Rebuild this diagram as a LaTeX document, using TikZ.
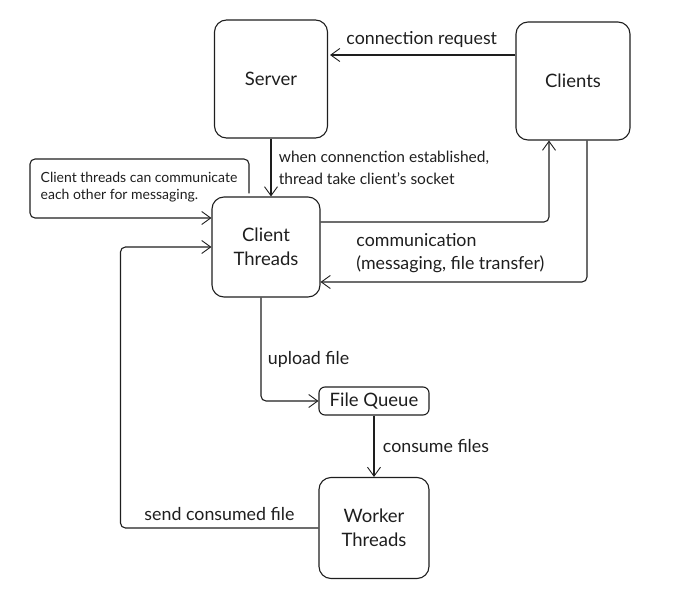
\documentclass[tikz,border=0pt]{standalone}
\usepackage{fontspec}
\setmainfont{Lato}
\usetikzlibrary{arrows.meta}
\definecolor{ink}{HTML}{1E1E1E}
\tikzstyle{block} = [rectangle, draw=ink, line width=1.1pt, rounded corners=12pt, align=center, text=ink, font=\fontsize{18.5}{24}\selectfont]
\tikzstyle{flow} = [draw=ink, line width=1.1pt, rounded corners=5pt, -{Straight Barb[length=9pt,width=13pt,line width=0.9pt]}]
\tikzstyle{edgetext} = [text=ink, align=left, font=\fontsize{17.8}{23}\selectfont]
\tikzstyle{smalltext} = [font=\fontsize{15.5}{22}\selectfont]
\tikzstyle{notetext} = [font=\fontsize{14}{17}\selectfont]

\begin{document}
\begin{tikzpicture}[x=1pt, y=1pt]
\useasboundingbox (0,0) rectangle (681,-605);
\node[block, minimum width=113pt, minimum height=118pt] (server) at (271,-79) {Server};
\node[block, minimum width=114pt, minimum height=118pt, right of=server, node distance=302pt, yshift=-2pt] (clients) {Clients};
\node[block, minimum width=108pt, minimum height=100pt, below of=server, node distance=168pt, xshift=-5pt] (ct) {Client\\Threads};
\node[block, minimum width=110pt, minimum height=28pt, rounded corners=6pt, below of=ct, node distance=154pt, xshift=108pt] (queue) {File Queue};
\node[block, minimum width=110pt, minimum height=101pt, below of=queue, node distance=127pt] (worker) {Worker\\Threads};
\node[edgetext, notetext] (note) at (139,-187) {Client threads can communicate\\each other for messaging.};
\coordinate (bend) at (30,-159);
\coordinate (back) at ([xshift=-91pt]ct.west);

\draw[flow, shorten >=2pt] ([yshift=24pt]server.east -| clients.west) -- ([yshift=24pt]server.east) node[edgetext, midway, above=4pt] {connection request};
\draw[flow] (server.south) -- (server.south |- ct.north) node[edgetext, smalltext, midway, right=4pt] {when connenction established,\\thread take client's socket};
\draw[flow] ([yshift=25pt]ct.east) -| ([xshift=-24pt]clients.south);
\draw[flow] ([xshift=14pt]clients.south) |- ([yshift=-35pt]ct.east) node[edgetext, pos=0.94, anchor=south west, yshift=5pt] {communication\\(messaging, file transfer)};
\draw[flow, shorten <=3pt] ([xshift=-17pt]ct.north) |- (bend) |- ([yshift=29pt]ct.west);
\draw[flow] ([xshift=-5pt]ct.south) |- (queue.west) node[edgetext, pos=0.3, right=3pt] {upload file};
\draw[flow] (queue) -- (worker) node[edgetext, midway, right=5pt] {consume files};
\draw[flow] (worker.west) -| (back) node[edgetext, pos=0.25, above=3pt] {send consumed file} -- (ct.west);
\end{tikzpicture}
\end{document}
